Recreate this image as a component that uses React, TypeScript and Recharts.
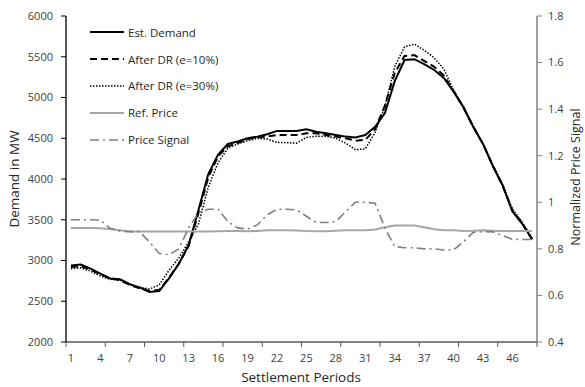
import React from 'react';
import { LineChart, Line, XAxis, YAxis, Legend } from 'recharts';

const periods = Array.from({ length: 48 }, (_, i) => i + 1);

const estDemand = [
  2940, 2950, 2900, 2840, 2780, 2770, 2710, 2670, 2615, 2625, 2780, 2960,
  3190, 3620, 4060, 4300, 4430, 4460, 4500, 4520, 4550, 4590, 4590, 4590,
  4610, 4580, 4560, 4540, 4520, 4510, 4540, 4640, 4810, 5200, 5460, 5470,
  5410, 5340, 5240, 5070, 4880, 4640, 4430, 4160, 3920, 3600, 3450, 3260,
];
const afterDR10 = [
  2920, 2930, 2890, 2830, 2780, 2760, 2700, 2660, 2625, 2640, 2790, 2960,
  3180, 3580, 4020, 4280, 4400, 4440, 4490, 4510, 4520, 4540, 4540, 4540,
  4560, 4560, 4540, 4520, 4500, 4470, 4480, 4610, 4900, 5300, 5510, 5520,
  5450, 5380, 5270, 5080, 4880, 4640, 4430, 4160, 3920, 3610, 3455, 3260,
];
const afterDR30 = [
  2900, 2910, 2870, 2810, 2770, 2760, 2700, 2670, 2650, 2700, 2880, 3030,
  3230, 3450, 3900, 4200, 4380, 4430, 4470, 4500, 4490, 4450, 4445, 4440,
  4510, 4525, 4525, 4500, 4440, 4360, 4370, 4570, 4890, 5380, 5620, 5655,
  5580, 5490, 5350, 5090, 4890, 4650, 4430, 4170, 3930, 3630, 3470, 3270,
];
const refPrice = [
  0.89, 0.89, 0.89, 0.889, 0.885, 0.88, 0.875, 0.875, 0.875, 0.875, 0.875, 0.875,
  0.875, 0.875, 0.875, 0.876, 0.877, 0.877, 0.876, 0.877, 0.88, 0.88, 0.88, 0.879,
  0.877, 0.876, 0.876, 0.878, 0.88, 0.88, 0.88, 0.883, 0.893, 0.9, 0.9, 0.9,
  0.893, 0.884, 0.88, 0.88, 0.877, 0.878, 0.88, 0.878, 0.877, 0.877, 0.877, 0.877,
];
const priceSignal = [
  0.925, 0.925, 0.925, 0.924, 0.888, 0.876, 0.874, 0.874, 0.83, 0.78, 0.775, 0.8,
  0.89, 0.955, 0.97, 0.97, 0.917, 0.89, 0.885, 0.903, 0.946, 0.97, 0.97, 0.967,
  0.94, 0.913, 0.913, 0.917, 0.96, 1.0, 1.0, 0.996, 0.89, 0.81, 0.805, 0.805,
  0.8, 0.8, 0.795, 0.795, 0.83, 0.871, 0.874, 0.873, 0.857, 0.841, 0.84, 0.84,
];

const xLabelTicks = [1, 4, 7, 10, 13, 16, 19, 22, 25, 28, 31, 34, 37, 40, 43, 46];
const xMarkTicks = [0.5, 4.5, 8.5, 12.5, 16.5, 20.5, 24.5, 28.5, 32.5, 36.5, 40.5, 44.5, 48.5];
const demandTicks = [2000, 2500, 3000, 3500, 4000, 4500, 5000, 5500, 6000];
const priceTicks = [0.4, 0.6, 0.8, 1, 1.2, 1.4, 1.6, 1.8];

const series = [
  { key: 'est', name: 'Est. Demand', axis: 'mw', color: '#000000', width: 2, dash: undefined },
  { key: 'dr10', name: 'After DR (e=10%)', axis: 'mw', color: '#000000', width: 2, dash: '7 4' },
  { key: 'dr30', name: 'After DR (e=30%)', axis: 'mw', color: '#000000', width: 1.5, dash: '1.5 1.5' },
  { key: 'ref', name: 'Ref. Price', axis: 'price', color: '#a6a6a6', width: 2, dash: undefined },
  { key: 'signal', name: 'Price Signal', axis: 'price', color: '#808080', width: 1.6, dash: '9 4 2 4' },
];

const rows = periods.map((p, i) => ({
  period: p,
  est: estDemand[i],
  dr10: afterDR10[i],
  dr30: afterDR30[i],
  ref: refPrice[i],
  signal: priceSignal[i],
}));

const font = '"Open Sans", sans-serif';

const XTick = (props: any) => {
  const { x, y, payload } = props;
  if (Number.isInteger(payload.value)) {
    return (
      <text x={x} y={y + 15} textAnchor="middle" fontSize={11} fill="#404040" fontFamily={font}>
        {payload.value}
      </text>
    );
  }
  return <line x1={x} x2={x} y1={y - 5} y2={y} stroke="#595959" strokeWidth={1} />;
};

const renderLegend = () => (
  <div style={{ fontFamily: font, fontSize: 11.5, color: '#262626' }}>
    {series.map((s) => (
      <div key={s.key} style={{ height: 26.8, display: 'flex', alignItems: 'center' }}>
        <svg width={36} height={10}>
          <line x1={0} x2={34} y1={5} y2={5} stroke={s.color} strokeWidth={s.width} strokeDasharray={s.dash} />
        </svg>
        <span style={{ marginLeft: 2, whiteSpace: 'nowrap' }}>{s.name}</span>
      </div>
    ))}
  </div>
);

export default function App() {
  return (
    <div style={{ position: 'absolute', left: 0, top: 0, width: 585, height: 387, background: '#fff' }}>
      <LineChart width={585} height={387} data={rows} margin={{ top: 16, right: 0, bottom: 0, left: 0 }}>
        <XAxis
          dataKey="period"
          type="number"
          domain={[0.5, 48.5]}
          ticks={[...xMarkTicks, ...xLabelTicks].sort((a, b) => a - b)}
          interval={0}
          height={45}
          tickSize={5}
          tickMargin={0}
          tickLine={false}
          tick={<XTick />}
          axisLine={{ stroke: '#595959', strokeWidth: 1.3 }}
        />
        <YAxis
          yAxisId="mw"
          orientation="left"
          domain={[2000, 6000]}
          ticks={demandTicks}
          interval={0}
          width={66}
          tickSize={5}
          tickMargin={8}
          tick={{ fontSize: 11, fill: '#404040', fontFamily: font }}
          tickLine={{ stroke: '#000' }}
          axisLine={{ stroke: '#000', strokeWidth: 1.3 }}
        />
        <YAxis
          yAxisId="price"
          orientation="right"
          domain={[0.4, 1.8]}
          ticks={priceTicks}
          interval={0}
          width={48}
          tickSize={5}
          tickMargin={6}
          tick={{ fontSize: 11, fill: '#404040', fontFamily: font }}
          tickLine={{ stroke: '#808080' }}
          axisLine={{ stroke: '#808080', strokeWidth: 1.5 }}
        />
        {series.map((s) => (
          <Line
            key={s.key}
            yAxisId={s.axis}
            dataKey={s.key}
            name={s.name}
            type="linear"
            stroke={s.color}
            strokeWidth={s.width}
            strokeDasharray={s.dash}
            dot={false}
            activeDot={false}
            isAnimationActive={false}
          />
        ))}
        <Legend
          layout="vertical"
          align="center"
          verticalAlign="middle"
          content={renderLegend}
          wrapperStyle={{ position: 'absolute', left: 90, top: 19, width: 180, margin: 0 }}
        />
        <text
          transform="translate(14,179) rotate(-90)"
          textAnchor="middle"
          dominantBaseline="central"
          fontSize={13.5}
          fill="#262626"
          fontFamily={font}
        >
          Demand in MW
        </text>
        <text
          transform="translate(575,177) rotate(-90)"
          textAnchor="middle"
          dominantBaseline="central"
          fontSize={12.5}
          fill="#262626"
          fontFamily={font}
        >
          Normalized Price Signal
        </text>
        <text x={301} y={382} textAnchor="middle" fontSize={13.5} fill="#262626" fontFamily={font}>
          Settlement Periods
        </text>
      </LineChart>
    </div>
  );
}
